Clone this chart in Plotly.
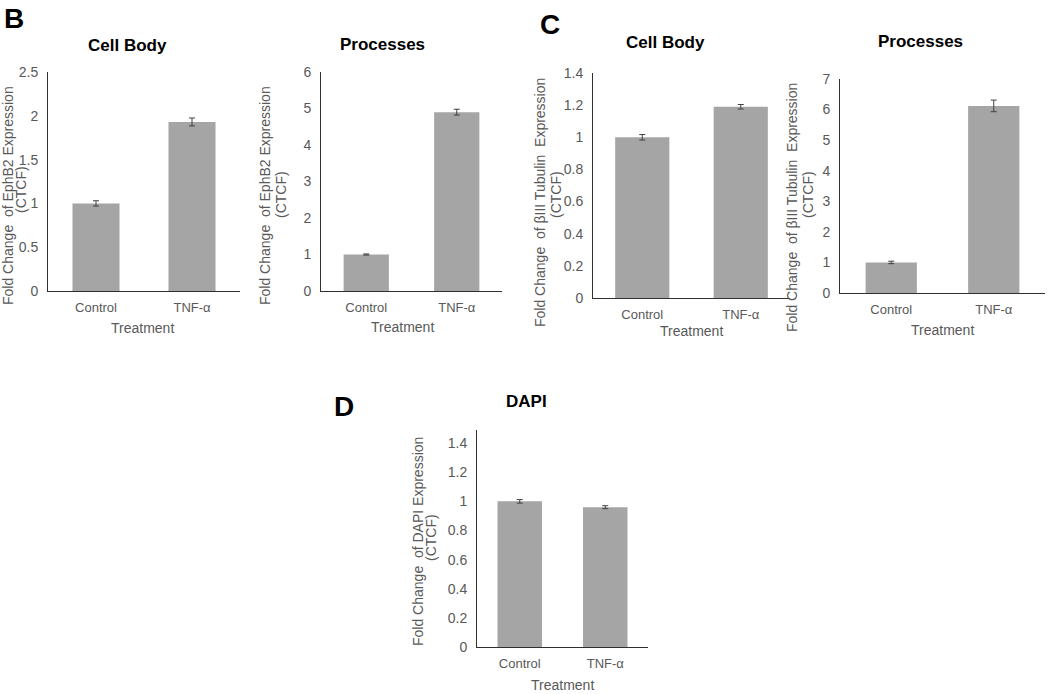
import plotly.graph_objects as go

W, H = 1050, 694

# ---------------- data ----------------
categories = ["Control", "TNF-α"]

ephb2_cell_body = [1.00, 1.93]
ephb2_cell_body_err = [0.03, 0.045]

ephb2_processes = [1.00, 4.90]
ephb2_processes_err = [0.015, 0.08]

tubulin_cell_body = [1.00, 1.19]
tubulin_cell_body_err = [0.017, 0.014]

tubulin_processes = [1.00, 6.12]
tubulin_processes_err = [0.04, 0.19]

dapi = [1.00, 0.96]
dapi_err = [0.012, 0.01]

# ---------------- styling / layout ----------------
BAR = "#a5a5a5"
AXIS = "#303030"
TXT = "#595959"
FONT = "Liberation Sans, Arial, sans-serif"


def fx(px):
    return px / W


def fy(py):
    return 1 - py / H


panels = [
    # values, err, x-domain px, y-domain px, yrange, dtick, bar width
    (ephb2_cell_body, ephb2_cell_body_err, (48, 240), (72, 291), 2.5, 0.5, 0.49),
    (ephb2_processes, ephb2_processes_err, (321, 502), (72, 291), 6, 1, 0.5),
    (tubulin_cell_body, tubulin_cell_body_err, (593, 790), (73, 298), 1.4, 0.2, 0.55),
    (tubulin_processes, tubulin_processes_err, (840, 1045), (79, 293), 7, 1, 0.5),
    (dapi, dapi_err, (477, 648), (430, 647), 1.49, 0.2, 0.52),
]

fig = go.Figure()
layout = dict(
    width=W, height=H, autosize=False,
    margin=dict(l=0, r=0, t=0, b=0, pad=0, autoexpand=False),
    paper_bgcolor="white", plot_bgcolor="white",
    showlegend=False,
    font=dict(family=FONT, size=13, color=TXT),
)

for i, (vals, errs, xd, yd, ymax, dt, bw) in enumerate(panels):
    n = "" if i == 0 else str(i + 1)
    fig.add_trace(go.Bar(
        x=categories, y=vals, width=[bw] * len(vals),
        marker=dict(color=BAR, line=dict(width=0)),
        error_y=dict(type="data", array=errs, visible=True,
                     color="#404040", thickness=1, width=3),
        xaxis="x" + n, yaxis="y" + n,
    ))
    layout["xaxis" + n] = dict(
        domain=[fx(xd[0]), fx(xd[1])], anchor="y" + n,
        type="category", range=[-0.5, 1.5],
        showline=True, linecolor=AXIS, linewidth=1,
        showgrid=False, zeroline=False, ticks="",
        tickfont=dict(size=13, color=TXT, family=FONT),
        ticklabelstandoff=4, fixedrange=True, automargin=False,
    )
    layout["yaxis" + n] = dict(
        domain=[fy(yd[1]), fy(yd[0])], anchor="x" + n,
        range=[0, ymax], dtick=dt, tick0=0,
        showline=True, linecolor=AXIS, linewidth=1,
        showgrid=False, zeroline=False, ticks="",
        tickfont=dict(size=14, color=TXT, family=FONT),
        ticklabelstandoff=6, fixedrange=True, automargin=False,
    )

fig.update_layout(**layout)

ann = []


def text(px, py, s, size, color=TXT, bold=False, angle=0):
    ann.append(dict(
        x=fx(px), y=fy(py), xref="paper", yref="paper",
        text=("<b>%s</b>" % s) if bold else s, showarrow=False,
        xanchor="center", yanchor="middle", textangle=angle,
        font=dict(size=size, color=color, family=FONT),
    ))


# panel letters
text(14, 18, "B", 28, "#000000", True)
text(550, 25, "C", 28, "#000000", True)
text(344, 406, "D", 28, "#000000", True)

# titles
text(127, 45, "Cell Body", 17, "#000000", True)
text(382, 44, "Processes", 17, "#000000", True)
text(666, 43, "Cell Body", 17, "#000000", True)
text(920, 42, "Processes", 17, "#000000", True)
text(526, 402, "DAPI", 17, "#000000", True)

# x titles
text(142, 328, "Treatment", 14)
text(402, 327, "Treatment", 14)
text(692, 331, "Treatment", 14)
text(942, 330, "Treatment", 14)
text(562, 685, "Treatment", 14)

# y titles
text(8, 196, "Fold Change  of EphB2 Expression", 14, angle=-90)
text(21, 190, "(CTCF)", 14, angle=-90)
text(265, 196, "Fold Change  of EphB2 Expression", 14, angle=-90)
text(281, 195, "(CTCF)", 14, angle=-90)
text(540, 203, "Fold Change  of βIII Tubulin  Expression", 14, angle=-90)
text(556, 195, "(CTCF)", 14, angle=-90)
text(792, 208, "Fold Change  of βIII Tubulin  Expression", 14, angle=-90)
text(808, 195, "(CTCF)", 14, angle=-90)
text(418, 542, "Fold Change  of DAPI Expression", 14, angle=-90)
text(431, 538, "(CTCF)", 14, angle=-90)

fig.update_layout(annotations=ann)

fig.write_html(
    "out.html",
    config={"responsive": False, "displayModeBar": False},
    post_script="document.body.style.margin='0';document.body.style.overflow='hidden';",
)
